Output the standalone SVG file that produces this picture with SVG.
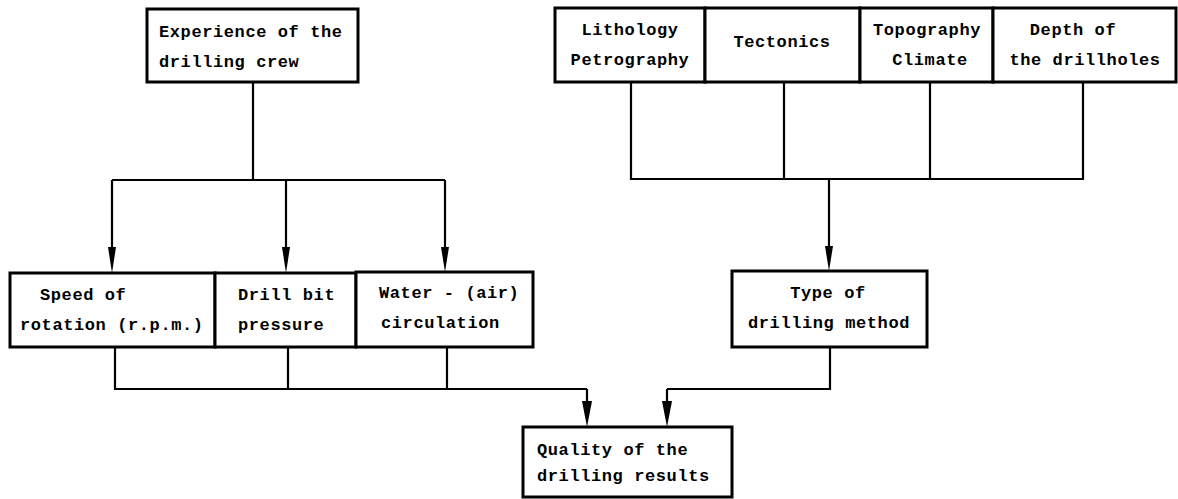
<svg xmlns="http://www.w3.org/2000/svg" width="1178" height="499" viewBox="0 0 1178 499">
<style>
.box{fill:#fff;stroke:#000;stroke-width:3}
.ln{fill:none;stroke:#000;stroke-width:2.2}
.ah{fill:#000}
text{font-family:"Liberation Mono","Courier New",monospace;font-weight:bold;font-size:17px;letter-spacing:0.6px;fill:#000}
.c{text-anchor:middle}
</style>
<rect width="1178" height="499" fill="#fff"/>
<g id="connectors">
<path class="ln" d="M253,82 V180"/>
<path class="ln" d="M112,180 H445"/>
<path class="ln" d="M631,82 V179 H1083 V82"/>
<path class="ln" d="M784,82 V179"/>
<path class="ln" d="M930,82 V179"/>
<path class="ln" d="M115,347 V389 H587"/>
<path class="ln" d="M288,347 V389"/>
<path class="ln" d="M447,347 V389"/>
<path class="ln" d="M830,347 V389 H667"/>
<path class="ln" d="M587,389 V402"/>
<path class="ln" d="M667,389 V402"/>
<path class="ln" d="M829,179 V248"/>
<path class="ln" d="M112,180 V248"/>
<path class="ln" d="M286,180 V248"/>
<path class="ln" d="M445,180 V248"/>
<polygon class="ah" points="108,247 116,247 112,273"/>
<polygon class="ah" points="282,247 290,247 286,273"/>
<polygon class="ah" points="441,247 449,247 445,272"/>
<polygon class="ah" points="825,246 833,246 829,271"/>
<polygon class="ah" points="582,401 592,401 587,427"/>
<polygon class="ah" points="662,401 672,401 667,427"/>
</g>
<g id="experience">
<rect class="box" x="147" y="9" width="211" height="73"/>
<text x="159" y="37">Experience of the</text>
<text x="159" y="67">drilling crew</text>
</g>
<g id="lithology">
<rect class="box" x="555" y="8" width="150" height="74"/>
<text class="c" x="630" y="35">Lithology</text>
<text class="c" x="630" y="65">Petrography</text>
</g>
<g id="tectonics">
<rect class="box" x="705" y="8" width="155" height="74"/>
<text class="c" x="782" y="47">Tectonics</text>
</g>
<g id="topography">
<rect class="box" x="860" y="8" width="133" height="74"/>
<text class="c" x="927" y="35">Topography</text>
<text class="c" x="930" y="65">Climate</text>
</g>
<g id="depth">
<rect class="box" x="993" y="8" width="183" height="74"/>
<text class="c" x="1073" y="35">Depth of</text>
<text class="c" x="1085" y="65">the drillholes</text>
</g>
<g id="speed">
<rect class="box" x="10" y="273" width="205" height="74"/>
<text x="40" y="300">Speed of</text>
<text x="20" y="330">rotation (r.p.m.)</text>
</g>
<g id="bitpressure">
<rect class="box" x="215" y="273" width="141" height="74"/>
<text x="238" y="300">Drill bit</text>
<text x="238" y="330">pressure</text>
</g>
<g id="water">
<rect class="box" x="356" y="272" width="177" height="75"/>
<text x="379" y="298">Water - (air)</text>
<text x="381" y="328">circulation</text>
</g>
<g id="method">
<rect class="box" x="732" y="271" width="195" height="76"/>
<text class="c" x="828" y="298">Type of</text>
<text class="c" x="829" y="328">drilling method</text>
</g>
<g id="quality">
<rect class="box" x="523" y="427" width="209" height="70"/>
<text x="537" y="455">Quality of the</text>
<text x="537" y="481">drilling results</text>
</g>
</svg>
